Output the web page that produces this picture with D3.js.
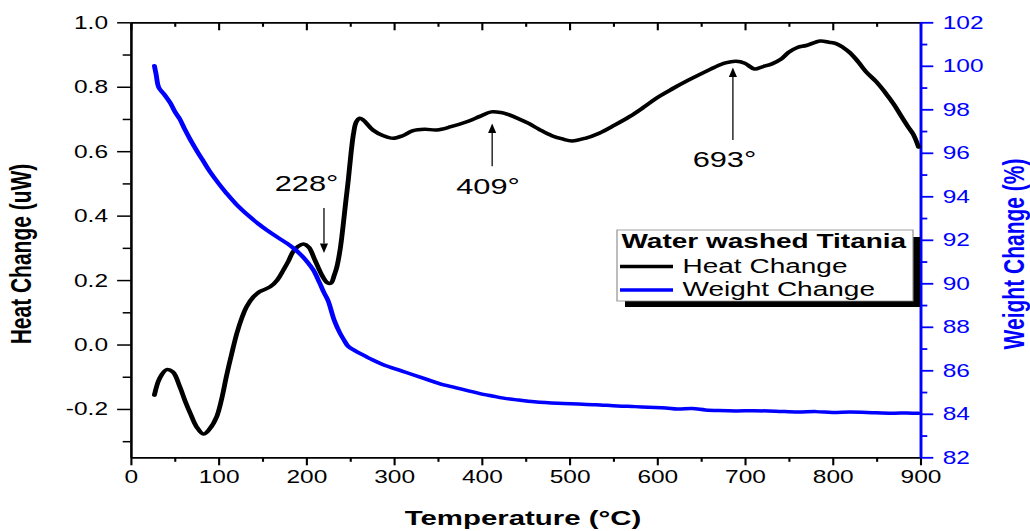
<!DOCTYPE html>
<html>
<head>
<meta charset="utf-8">
<script src="https://cdn.jsdelivr.net/npm/d3@7"></script>
<style>
  html, body { margin: 0; padding: 0; background: #fff; }
  svg { display: block; }
  text { font-family: Arial, "Liberation Sans", Helvetica, sans-serif; }
</style>
</head>
<body>
<svg id="chart" width="1030" height="531"></svg>
<script>
// ---- Data ---------------------------------------------------------------
// DSC heat flow of the water-washed titania sample
const temperature = [27, 33, 41, 48, 56, 62, 68, 75, 83, 90, 98, 104, 109, 115, 121, 127, 132, 140, 147, 159,
  167, 174, 180, 185, 191, 197, 203, 210, 218, 224, 228, 232, 235, 239, 242, 245, 248, 251, 254, 257,
  261, 265, 276, 288, 299, 310, 322, 335, 349, 365, 384, 398, 411, 422, 430, 442, 453, 466, 480, 492,
  503, 518, 534, 551, 569, 585, 600, 617, 634, 650, 665, 678, 690, 700, 711, 720, 731, 741, 750, 760,
  770, 786, 796, 804, 812, 820, 829, 838, 850, 860, 870, 878, 886, 892, 898];
const heatChange = [-0.157, -0.105, -0.078, -0.085, -0.131, -0.175, -0.214, -0.255, -0.278, -0.262, -0.224, -0.165, -0.100, -0.030, 0.035, 0.085, 0.117, 0.148, 0.164, 0.179,
  0.200, 0.231, 0.260, 0.288, 0.305, 0.312, 0.302, 0.262, 0.215, 0.192, 0.190, 0.215, 0.241, 0.300, 0.366, 0.440, 0.510, 0.590, 0.655, 0.690,
  0.702, 0.697, 0.666, 0.648, 0.640, 0.648, 0.664, 0.668, 0.666, 0.676, 0.692, 0.708, 0.722, 0.720, 0.714, 0.701, 0.687, 0.667, 0.648, 0.638,
  0.632, 0.640, 0.656, 0.680, 0.708, 0.737, 0.766, 0.793, 0.818, 0.840, 0.860, 0.874, 0.879, 0.873, 0.855, 0.862, 0.871, 0.885, 0.907, 0.922,
  0.928, 0.942, 0.938, 0.934, 0.922, 0.905, 0.878, 0.847, 0.815, 0.782, 0.745, 0.710, 0.676, 0.652, 0.613];

// TGA weight of the same sample
const weightTemperature = [27, 29, 32, 38, 45, 51, 56, 62, 68, 76, 83, 90, 100, 109, 120, 136, 145, 155, 166, 178,
  186, 193, 201, 208, 215, 220, 225, 232, 238, 243, 248, 255, 263, 276, 290, 307, 320, 335, 351, 370,
  385, 397, 412, 425, 442, 460, 487, 510, 530, 555, 575, 590, 610, 623, 640, 655, 670, 690, 710, 735,
  760, 781, 800, 820, 849, 870, 885, 898];
const weightChange = [100.0, 99.6, 99.0, 98.7, 98.3, 97.85, 97.55, 97.05, 96.6, 96.05, 95.6, 95.15, 94.6, 94.15, 93.65, 93.05, 92.75, 92.45, 92.15, 91.84,
  91.6, 91.35, 91.0, 90.62, 90.05, 89.6, 89.2, 88.3, 87.75, 87.4, 87.1, 86.92, 86.74, 86.47, 86.22, 86.0, 85.82, 85.62, 85.4, 85.2,
  85.05, 84.94, 84.82, 84.72, 84.63, 84.55, 84.48, 84.45, 84.42, 84.36, 84.33, 84.30, 84.27, 84.22, 84.24, 84.18, 84.15, 84.13, 84.14, 84.12,
  84.08, 84.10, 84.06, 84.08, 84.05, 84.03, 84.04, 84.02];

// Axis ticks
const temperatureTicks = [0, 100, 200, 300, 400, 500, 600, 700, 800, 900];
const temperatureMinorTicks = [50, 150, 250, 350, 450, 550, 650, 750, 850];
const heatTicks = [-0.2, 0.0, 0.2, 0.4, 0.6, 0.8, 1.0];
const heatMinorTicks = [-0.3, -0.1, 0.1, 0.3, 0.5, 0.7, 0.9];
const weightTicks = [82, 84, 86, 88, 90, 92, 94, 96, 98, 100, 102];
const weightMinorTicks = [83, 85, 87, 89, 91, 93, 95, 97, 99, 101];

// Marked DSC peaks (°C)
const peakTemps = [228, 409, 693];

const legendTitle = "Water washed Titania";
const seriesNames = ["Heat Change", "Weight Change"];
const seriesColors = ["#000000", "#0000ff"];

// ---- Layout --------------------------------------------------------------
const SX = 1.4;                       // the figure is drawn with a wide horizontal aspect
const vx = px => px / SX;             // screen x -> drawing x
const plot = { left: 130.7, right: 920.3, top: 22.3, bottom: 457.3 };
const FONT = 'Arial, "Liberation Sans", Helvetica, sans-serif';

const svg = d3.select("#chart");
svg.append("rect").attr("width", 1030).attr("height", 531).attr("fill", "#fff");
const root = svg.append("g").attr("transform", `scale(${SX},1)`);

const x = d3.scaleLinear().domain([0, 900]).range([vx(plot.left), vx(plot.right)]);
const yHeat = d3.scaleLinear().domain([-0.35, 1.0]).range([plot.bottom, plot.top]);
const yWeight = d3.scaleLinear().domain([82, 102]).range([plot.bottom, plot.top]);

function styleAxis(g, color, width) {
  g.attr("font-family", FONT).attr("font-size", 17.5);
  g.select(".domain").attr("stroke", color).attr("stroke-width", width);
  g.selectAll(".tick line").attr("stroke", color).attr("stroke-width", width);
  g.selectAll(".tick text").attr("fill", color);
}

// bottom axis
root.append("g").attr("transform", `translate(0,${plot.bottom})`)
  .call(d3.axisBottom(x).tickValues(temperatureTicks).tickSize(8).tickSizeOuter(0).tickPadding(5).tickFormat(d3.format("d")))
  .call(g => styleAxis(g, "#000", 1.5));
root.append("g").attr("transform", `translate(0,${plot.bottom})`)
  .call(d3.axisBottom(x).tickValues(temperatureMinorTicks).tickSize(4.5).tickSizeOuter(0).tickFormat(""))
  .call(g => styleAxis(g, "#000", 1.5));

// top mirror axis, ticks pointing inward
root.append("g").attr("transform", `translate(0,${plot.top})`)
  .call(d3.axisTop(x).tickValues(temperatureTicks).tickSize(-8).tickSizeOuter(0).tickFormat(""))
  .call(g => styleAxis(g, "#000", 1.5));
root.append("g").attr("transform", `translate(0,${plot.top})`)
  .call(d3.axisTop(x).tickValues(temperatureMinorTicks).tickSize(-4.5).tickSizeOuter(0).tickFormat(""))
  .call(g => styleAxis(g, "#000", 1.5));

// left axis: heat change
root.append("g").attr("transform", `translate(${vx(plot.left)},0)`)
  .call(d3.axisLeft(yHeat).tickValues(heatTicks).tickSize(vx(13.6)).tickSizeOuter(0).tickPadding(6.5).tickFormat(d => d.toFixed(1)))
  .call(g => styleAxis(g, "#000", 1.5))
  .call(g => g.selectAll(".tick text").attr("dy", "0.34em"));
root.append("g").attr("transform", `translate(${vx(plot.left)},0)`)
  .call(d3.axisLeft(yHeat).tickValues(heatMinorTicks).tickSize(vx(8)).tickSizeOuter(0).tickFormat(""))
  .call(g => styleAxis(g, "#000", 1.5));

// right axis: weight change
root.append("g").attr("transform", `translate(${vx(plot.right)},0)`)
  .call(d3.axisRight(yWeight).tickValues(weightTicks).tickSize(vx(13)).tickSizeOuter(0).tickPadding(6.7).tickFormat(d3.format("d")))
  .call(g => styleAxis(g, "#0000ff", 1.8))
  .call(g => g.selectAll(".tick text").attr("dy", "0.34em"));
root.append("g").attr("transform", `translate(${vx(plot.right)},0)`)
  .call(d3.axisRight(yWeight).tickValues(weightMinorTicks).tickSize(vx(7)).tickSizeOuter(0).tickFormat(""))
  .call(g => styleAxis(g, "#0000ff", 1.8));

// ---- Curves ---------------------------------------------------------------
const heatData = temperature.map((t, i) => [t, heatChange[i]]);
const weightData = weightTemperature.map((t, i) => [t, weightChange[i]]);

root.append("path")
  .datum(heatData)
  .attr("fill", "none")
  .attr("stroke", seriesColors[0])
  .attr("stroke-width", 3.5)
  .attr("stroke-linejoin", "round")
  .attr("stroke-linecap", "round")
  .attr("d", d3.line().x(d => x(d[0])).y(d => yHeat(d[1])).curve(d3.curveCatmullRom.alpha(0.5)));

root.append("path")
  .datum(weightData)
  .attr("fill", "none")
  .attr("stroke", seriesColors[1])
  .attr("stroke-width", 3.5)
  .attr("stroke-linejoin", "round")
  .attr("stroke-linecap", "round")
  .attr("d", d3.line().x(d => x(d[0])).y(d => yWeight(d[1])).curve(d3.curveCatmullRom.alpha(0.5)));

// ---- Peak annotations -----------------------------------------------------
const annotationLayout = [
  { labelT: 200.4, labelH: 0.477, arrowT: 220.3, tailH: 0.424, tipH: 0.284 },
  { labelT: 407.3, labelH: 0.467, arrowT: 412.0, tailH: 0.553, tipH: 0.686 },
  { labelT: 676.8, labelH: 0.551, arrowT: 686.4, tailH: 0.635, tipH: 0.860 }
];
const ann = root.append("g");
peakTemps.forEach((p, i) => {
  const a = annotationLayout[i];
  const ax = x(a.arrowT), ty = yHeat(a.tipH), tl = yHeat(a.tailH);
  const dir = tl > ty ? 1 : -1;          // arrow points from tail toward tip
  const head = 9.5;
  ann.append("line")
    .attr("x1", ax).attr("x2", ax)
    .attr("y1", tl).attr("y2", ty + dir * head)
    .attr("stroke", "#000").attr("stroke-width", 0.9);
  ann.append("path")
    .attr("d", `M${ax},${ty} L${ax - 2.9},${ty + dir * head} L${ax + 2.9},${ty + dir * head} Z`)
    .attr("fill", "#000");
  ann.append("text")
    .attr("x", x(a.labelT)).attr("y", yHeat(a.labelH))
    .attr("text-anchor", "middle")
    .attr("font-size", 22)
    .attr("fill", "#000")
    .text(`${p}°`);
});

// ---- Axis titles ----------------------------------------------------------
root.append("text")
  .attr("x", vx(523)).attr("y", 525)
  .attr("text-anchor", "middle")
  .attr("font-size", 21).attr("font-weight", "bold")
  .attr("fill", "#000")
  .text("Temperature (°C)");

root.append("text")
  .attr("transform", `translate(${vx(31)},254) rotate(-90)`)
  .attr("text-anchor", "middle")
  .attr("font-size", 21).attr("font-weight", "bold")
  .attr("fill", "#000")
  .text("Heat Change (uW)");

root.append("text")
  .attr("transform", `translate(${vx(1024)},254) rotate(-90)`)
  .attr("text-anchor", "middle")
  .attr("font-size", 21).attr("font-weight", "bold")
  .attr("fill", "#0000ff")
  .text("Weight Change (%)");

// ---- Legend ---------------------------------------------------------------
const lg = root.append("g");
lg.append("rect")
  .attr("x", vx(625)).attr("y", 237)
  .attr("width", vx(920) - vx(625)).attr("height", 70)
  .attr("fill", "#000");
lg.append("rect")
  .attr("x", vx(617)).attr("y", 230)
  .attr("width", vx(913) - vx(617)).attr("height", 71)
  .attr("fill", "#fff").attr("stroke", "#8a8a8a").attr("stroke-width", 0.8);
lg.append("text")
  .attr("x", vx(621.5)).attr("y", 248.5)
  .attr("font-size", 20).attr("font-weight", "bold")
  .attr("fill", "#000")
  .text(legendTitle);
const rowY = [266.5, 290];
seriesNames.forEach((name, i) => {
  lg.append("line")
    .attr("x1", vx(620)).attr("x2", vx(673))
    .attr("y1", rowY[i]).attr("y2", rowY[i])
    .attr("stroke", seriesColors[i]).attr("stroke-width", 3.5);
  lg.append("text")
    .attr("x", vx(682.5)).attr("y", rowY[i] + 6.5)
    .attr("font-size", 20)
    .attr("fill", "#000")
    .text(name);
});
</script>
</body>
</html>
